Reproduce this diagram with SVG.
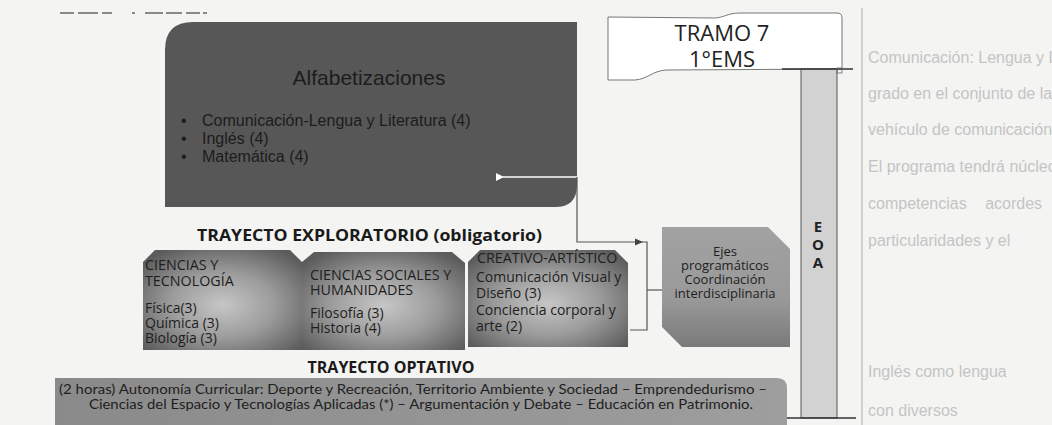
<svg xmlns="http://www.w3.org/2000/svg" width="1052" height="425" viewBox="0 0 1052 425">
<defs>
<style>
.faint{font-family:"Liberation Sans",Arial,sans-serif;font-size:16px;fill:#c4c4c4}
.alf{font-family:"Liberation Sans",Arial,sans-serif;fill:#1c1c1c}
.bh{font-family:"Open Sans","Liberation Sans",sans-serif;font-size:14.3px;fill:#1e1e1e}
.box{font-family:"Open Sans","Liberation Sans",sans-serif;font-size:14px;fill:#1e1e1e}
.hd{font-family:"Open Sans","Liberation Sans",sans-serif;font-weight:700;font-size:16px;fill:#1a1a1a}
.ejes{font-family:"Open Sans","Liberation Sans",sans-serif;font-size:13px;fill:#1e1e1e;text-anchor:middle}
.opt{font-family:"Lato","Open Sans",sans-serif;font-size:13px;fill:#1e1e1e;text-anchor:middle}
.eoa{font-family:"Open Sans","Liberation Sans",sans-serif;font-weight:700;font-size:15px;fill:#222;text-anchor:middle}
.tramo{font-family:"Open Sans","Liberation Sans",sans-serif;font-size:22px;fill:#222;text-anchor:middle}
.conn{fill:none;stroke:#555;stroke-width:1.2}
</style>
<radialGradient id="rg" cx="0.5" cy="0.55" r="0.65">
<stop offset="0" stop-color="#c6c6c6"/>
<stop offset="0.5" stop-color="#9c9c9c"/>
<stop offset="1" stop-color="#5c5c5c"/>
</radialGradient>
<linearGradient id="ejg" x1="0" y1="0" x2="0" y2="1">
<stop offset="0" stop-color="#a2a2a2"/>
<stop offset="0.6" stop-color="#999"/>
<stop offset="1" stop-color="#7a7a7a"/>
</linearGradient>
<linearGradient id="optg" x1="0" y1="0" x2="1" y2="0">
<stop offset="0" stop-color="#8a8a8a"/>
<stop offset="1" stop-color="#9e9e9e"/>
</linearGradient>
<marker id="wh" markerWidth="8" markerHeight="8" refX="1" refY="4" orient="auto" markerUnits="userSpaceOnUse">
<path d="M8,0 L0,4 L8,8 Z" fill="#fff"/>
</marker>
</defs>
<rect width="1052" height="425" fill="#f4f4f2"/>

<g id="background-text">
<text class="faint" x="868" y="63">Comunicación: Lengua y Literatura</text>
<text class="faint" x="868" y="99">grado en el conjunto de las alfabetizaciones</text>
<text class="faint" x="868" y="135">vehículo de comunicación.</text>
<text class="faint" x="868" y="172">El programa tendrá núcleos comunes y</text>
<text class="faint" x="868" y="209" word-spacing="14">competencias acordes</text>
<text class="faint" x="868" y="246">particularidades y el</text>
<text class="faint" x="868" y="377">Inglés como lengua</text>
<text class="faint" x="868" y="416">con diversos</text>
<line x1="862" y1="8" x2="862" y2="425" stroke="#aaa" stroke-width="1"/>
<path d="M60,13 h14 M78,13 h20 M102,13 h10 M132,13 h3 M145,13 h18 M166,13 h16 M186,13 h14 M203,13 h4" stroke="#666" stroke-width="1.3"/>
</g>

<g id="alfabetizaciones">
<path d="M193,22 L577,22 L577,185 Q577,207 555,207 L165,207 L165,50 Q165,22 193,22 Z" fill="#575757"/>
<text class="alf" x="369" y="85" font-size="21" text-anchor="middle">Alfabetizaciones</text>
<text class="alf" font-size="16">
<tspan x="181" y="126">•</tspan><tspan x="202" y="126">Comunicación-Lengua y Literatura (4)</tspan>
<tspan x="181" y="144">•</tspan><tspan x="202" y="144">Inglés (4)</tspan>
<tspan x="181" y="162">•</tspan><tspan x="202" y="162">Matemática (4)</tspan>
</text>
</g>

<g id="tramo">
<path d="M608,17 L714,18 C724,18 727,13 740,13 L837,13 Q842,13 842,18 L842,69 L666,70 C652,71 648,79 635,80 L608,80 Z" fill="#fff" stroke="#777" stroke-width="1"/>
<text class="tramo" x="722" y="41">TRAMO 7</text>
<text class="tramo" x="722" y="67">1°EMS</text>
</g>

<g id="eoa">
<rect x="801" y="69" width="36" height="349" fill="#d2d2d2" stroke="#555" stroke-width="1"/>
<line x1="782" y1="69" x2="853" y2="69" stroke="#333" stroke-width="1.5"/>
<line x1="785" y1="418" x2="856" y2="418" stroke="#333" stroke-width="1.5"/>
<rect x="837" y="68" width="5" height="5" fill="none" stroke="#666" stroke-width="0.8"/>
<text class="eoa" x="818" y="232">E</text>
<text class="eoa" x="818" y="250">O</text>
<text class="eoa" x="818" y="268">A</text>
</g>

<g id="trayecto-exploratorio">
<text class="hd" x="197" y="241" textLength="345" lengthAdjust="spacingAndGlyphs">TRAYECTO EXPLORATORIO (obligatorio)</text>
</g>

<g id="ciencias-tecnologia">
<path d="M143,262 L155,250 L290,250 L302,262 L302,350 L143,350 Z" fill="url(#rg)"/>
<text class="bh"><tspan x="145" y="270">CIENCIAS Y</tspan><tspan x="145" y="286">TECNOLOGÍA</tspan></text>
<text class="box"><tspan x="145" y="313">Física(3)</tspan><tspan x="145" y="328">Química (3)</tspan><tspan x="145" y="343">Biología (3)</tspan></text>
</g>

<g id="ciencias-sociales">
<path d="M302,262 L314,252 L452,252 L465,263 L465,350 L302,350 Z" fill="url(#rg)"/>
<text class="bh"><tspan x="310" y="280">CIENCIAS SOCIALES Y</tspan><tspan x="310" y="295">HUMANIDADES</tspan></text>
<text class="box"><tspan x="310" y="318">Filosofía (3)</tspan><tspan x="310" y="333">Historia (4)</tspan></text>
</g>

<g id="creativo-artistico">
<path d="M468,262 L480,250 L615,250 L628,263 L628,347 L468,347 Z" fill="url(#rg)"/>
<text class="bh"><tspan x="477" y="263">CREATIVO-ARTÍSTICO</tspan></text>
<text class="box"><tspan x="476" y="282">Comunicación Visual y</tspan><tspan x="476" y="298">Diseño (3)</tspan><tspan x="476" y="315">Conciencia corporal y</tspan><tspan x="476" y="331">arte (2)</tspan></text>
</g>

<g id="ejes">
<path d="M662,227 L768,227 L790,249 L790,347 L682,347 L662,327 Z" fill="url(#ejg)"/>
<text class="ejes"><tspan x="725" y="256">Ejes</tspan><tspan x="725" y="270">programáticos</tspan><tspan x="725" y="284">Coordinación</tspan><tspan x="725" y="298">interdisciplinaria</tspan></text>
</g>

<g id="trayecto-optativo">
<text class="hd" x="391" y="373" text-anchor="middle">TRAYECTO OPTATIVO</text>
<path d="M55,378 L777,378 Q787,378 787,388 L787,425 L55,425 Z" fill="url(#optg)"/>
<text class="opt" x="413" y="394" textLength="708" lengthAdjust="spacingAndGlyphs">(2 horas) Autonomía Curricular: Deporte y Recreación, Territorio Ambiente y Sociedad – Emprendedurismo –</text>
<text class="opt" x="421" y="409" textLength="664" lengthAdjust="spacingAndGlyphs">Ciencias del Espacio y Tecnologías Aplicadas (*) – Argumentación y Debate – Educación en Patrimonio.</text>
</g>

<g id="connectors">
<line x1="577" y1="177" x2="503" y2="177" stroke="#fff" stroke-width="1.5" marker-end="url(#wh)"/>
<polyline class="conn" points="577,177 577,242 647,242 647,330 630,330"/>
<line class="conn" x1="647" y1="290" x2="662" y2="290"/>
<path d="M643,242 L635,238.5 L635,245.5 Z" fill="#444"/>
</g>
</svg>
